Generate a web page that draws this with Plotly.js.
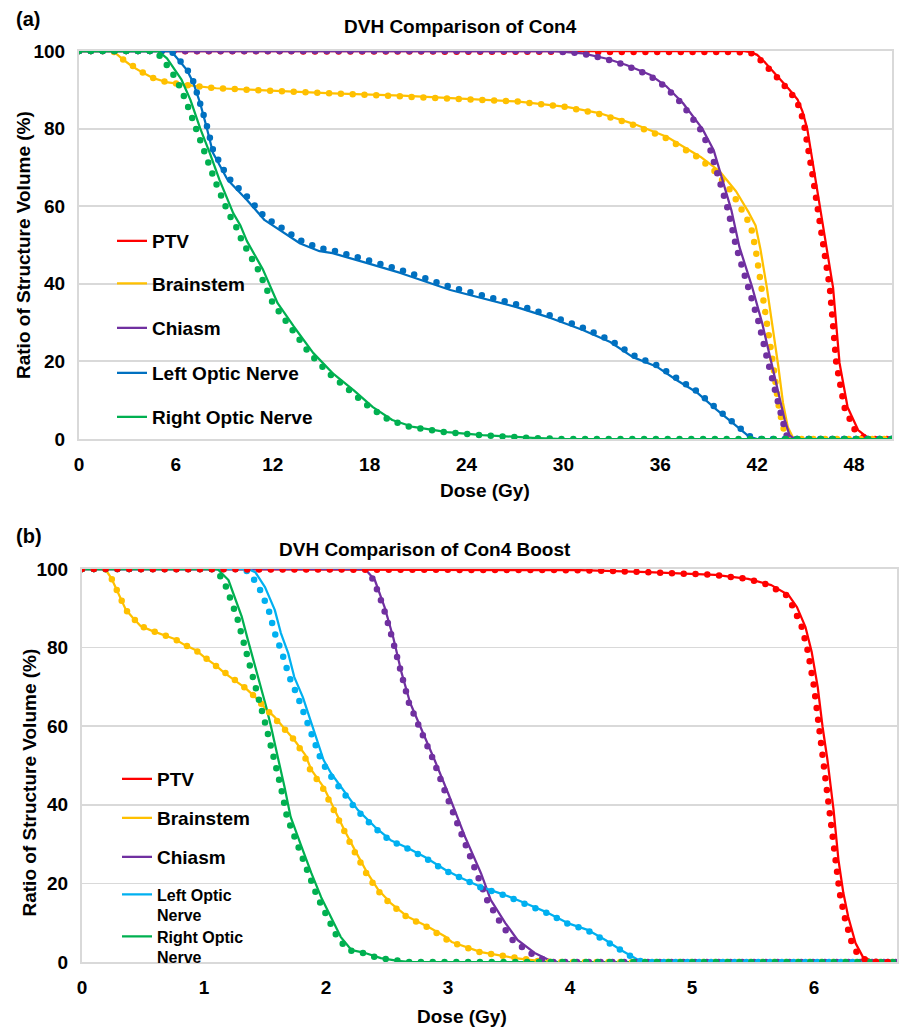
<!DOCTYPE html>
<html><head><meta charset="utf-8">
<script src="https://cdn.plot.ly/plotly-3.0.1.min.js"></script>
<style>
html,body{margin:0;padding:0;background:#fff;}
#chart{width:901px;height:1029px;}
.scatterlayer .js-line{stroke-linecap:round;stroke-linejoin:round;}
</style></head><body><div id="chart"></div><script>
// ---------- (a) DVH Comparison of Con4 ----------
var structures = ['PTV', 'Brainstem', 'Chiasm', 'Left Optic Nerve', 'Right Optic Nerve'];
var xTicksA = [0, 6, 12, 18, 24, 30, 36, 42, 48];
var xTicksB = [0, 1, 2, 3, 4, 5, 6];
var yTicks = [0, 20, 40, 60, 80, 100];

// clinical (solid) and predicted (dotted) DVHs, Con4
var a_ptv_dose = [0, 41.1, 41.6, 42.0, 42.5, 43.0, 43.5, 44.0, 44.5, 44.8, 45.1, 45.6, 46.3, 46.7, 47.1, 47.6, 48.25, 48.8, 49.3, 50.35];
var a_ptv_vol = [100, 100, 99.7, 99.0, 97.0, 94.7, 92.5, 90.0, 87.5, 84.5, 80.0, 67.5, 49.5, 39.0, 19.6, 8.2, 2.3, 0.5, 0, 0];
var a_ptv_pred_dose = [0, 41.0, 41.5, 41.9, 42.4, 42.9, 43.4, 43.9, 44.4, 44.7, 44.95, 45.45, 46.1, 46.5, 46.9, 47.4, 48.05, 48.6, 49.1, 50.35];
var a_ptv_pred_vol = [100, 100, 99.7, 99.0, 97.0, 94.7, 92.5, 90.0, 87.5, 84.5, 80.0, 67.5, 49.5, 39.0, 19.6, 8.2, 2.3, 0.5, 0, 0];

var a_brain_dose = [0, 2.1, 2.7, 3.3, 4.0, 4.6, 5.4, 6.7, 8.5, 11.6, 15.7, 20.0, 23.0, 27.1, 30.2, 32.3, 34.3, 36.4, 38.5, 39.7, 40.7, 41.5, 41.9, 42.2, 42.6, 43.0, 43.3, 43.6, 43.9, 44.2, 44.6, 50.35];
var a_brain_vol = [100, 100, 97.9, 96.0, 94.3, 93.0, 92.0, 91.2, 90.4, 89.8, 89.1, 88.5, 87.8, 87.0, 85.6, 83.9, 81.3, 77.9, 72.7, 68.9, 63.8, 58.2, 55.0, 49.0, 39.0, 28.0, 19.0, 9.3, 3.0, 0.5, 0, 0];
var a_brain_pred_dose = [0, 2.1, 2.7, 3.3, 4.0, 4.6, 5.4, 6.7, 8.5, 11.6, 15.7, 20.0, 23.0, 27.1, 30.1, 32.1, 34.1, 36.2, 38.3, 39.4, 40.4, 41.2, 41.6, 41.9, 42.3, 42.7, 43.0, 43.3, 43.6, 43.9, 44.3, 50.35];
var a_brain_pred_vol = [100, 100, 97.9, 96.0, 94.3, 93.0, 92.0, 91.2, 90.4, 89.8, 89.1, 88.5, 87.8, 87.0, 85.6, 83.9, 81.3, 77.9, 72.7, 68.9, 63.8, 58.2, 55.0, 49.0, 39.0, 28.0, 19.0, 9.3, 3.0, 0.5, 0, 0];

var a_chi_dose = [0, 29.2, 31.2, 32.7, 33.9, 35.4, 36.4, 37.4, 38.6, 39.3, 39.8, 40.4, 40.9, 41.3, 41.7, 42.3, 42.8, 43.3, 43.7, 44.0, 44.3, 50.35];
var a_chi_vol = [100, 100, 99.4, 98.0, 96.4, 93.8, 90.8, 86.6, 80.0, 74.5, 67.5, 59.0, 49.5, 44.0, 39.0, 30.0, 21.0, 12.0, 5.0, 1.0, 0, 0];
var a_chi_pred_dose = [0, 29.2, 31.1, 32.6, 33.8, 35.3, 36.3, 37.3, 38.45, 39.1, 39.6, 40.2, 40.7, 41.1, 41.5, 42.1, 42.6, 43.1, 43.5, 43.8, 44.1, 50.35];
var a_chi_pred_vol = [100, 100, 99.4, 98.0, 96.4, 93.8, 90.8, 86.6, 80.0, 74.5, 67.5, 59.0, 49.5, 44.0, 39.0, 30.0, 21.0, 12.0, 5.0, 1.0, 0, 0];

var a_lon_dose = [0, 5.7, 6.25, 6.7, 7.1, 7.5, 7.9, 8.3, 9.2, 10.4, 11.5, 12.7, 13.7, 14.9, 15.7, 17.8, 19.9, 23.0, 25.0, 27.1, 29.2, 31.2, 32.9, 34.3, 35.8, 37.0, 38.3, 39.5, 40.5, 41.5, 42.0, 50.35];
var a_lon_vol = [100, 100, 97.3, 95.0, 91.6, 86.6, 80.4, 73.7, 66.8, 61.6, 56.4, 53.0, 50.4, 48.4, 47.9, 45.4, 42.8, 38.4, 36.3, 34.0, 31.2, 28.1, 25.0, 21.1, 18.6, 15.2, 11.9, 7.5, 4.1, 0.6, 0, 0];
var a_lon_pred_dose = [0, 5.7, 6.25, 6.7, 7.1, 7.5, 7.9, 8.3, 9.2, 10.4, 11.5, 12.7, 13.7, 14.9, 15.7, 17.8, 19.9, 23.0, 25.0, 27.1, 29.2, 31.2, 32.9, 34.3, 35.8, 37.0, 38.3, 39.5, 40.5, 41.5, 42.0, 50.35];
var a_lon_pred_vol = [100, 100, 97.5, 95.3, 92.0, 87.0, 81.0, 74.5, 67.5, 62.5, 57.2, 54.0, 51.2, 49.2, 48.6, 46.2, 43.6, 39.2, 37.0, 34.7, 31.8, 28.7, 25.5, 21.6, 19.0, 15.6, 12.2, 7.8, 4.3, 0.8, 0, 0];

var a_ron_dose = [0, 4.9, 5.45, 5.8, 6.35, 6.9, 7.5, 8.1, 8.7, 9.55, 10.0, 10.4, 11.4, 12.3, 13.3, 14.5, 15.7, 17.0, 18.2, 19.4, 20.7, 22.8, 25.0, 28.1, 30.0, 50.35];
var a_ron_vol = [100, 100, 98.1, 96.0, 92.6, 87.4, 80.1, 73.7, 66.8, 58.2, 55.0, 51.0, 43.6, 35.0, 29.0, 22.2, 17.0, 12.6, 8.2, 4.9, 3.1, 1.8, 1.0, 0.3, 0, 0];
var a_ron_pred_dose = [0, 4.7, 5.15, 5.5, 6.05, 6.6, 7.2, 7.8, 8.4, 9.25, 9.7, 10.1, 11.1, 12.0, 13.0, 14.25, 15.45, 16.8, 18.0, 19.2, 20.5, 22.6, 24.8, 27.9, 29.8, 50.35];
var a_ron_pred_vol = [100, 100, 98.1, 96.0, 92.6, 87.4, 80.1, 73.7, 66.8, 58.2, 55.0, 51.0, 43.6, 35.0, 29.0, 22.2, 17.0, 12.6, 8.2, 4.9, 3.1, 1.8, 1.0, 0.3, 0, 0];

// ---------- (b) DVH Comparison of Con4 Boost ----------
var b_ptv_dose = [0, 3.0, 4.09, 4.64, 5.19, 5.46, 5.65, 5.79, 5.86, 5.93, 5.98, 6.03, 6.07, 6.11, 6.16, 6.20, 6.24, 6.28, 6.34, 6.40, 6.48, 6.55, 6.68];
var b_ptv_vol = [100, 99.9, 99.7, 99.2, 98.5, 97.5, 95.9, 93.4, 90.3, 85.2, 79.0, 70.0, 59.8, 51.4, 38.7, 26.0, 17.6, 11.5, 4.8, 1.3, 0.2, 0, 0];
var b_ptv_pred_dose = [0, 3.0, 4.09, 4.64, 5.18, 5.45, 5.63, 5.77, 5.83, 5.90, 5.95, 6.00, 6.04, 6.08, 6.13, 6.17, 6.21, 6.25, 6.31, 6.37, 6.45, 6.52, 6.68];
var b_ptv_pred_vol = [100, 99.9, 99.7, 99.2, 98.5, 97.5, 95.9, 93.4, 90.3, 85.2, 79.0, 70.0, 59.8, 51.4, 38.7, 26.0, 17.6, 11.5, 4.8, 1.3, 0.2, 0, 0];

var b_brain_dose = [0, 0.19, 0.24, 0.32, 0.36, 0.42, 0.48, 0.58, 0.68, 0.76, 0.84, 0.93, 1.01, 1.09, 1.17, 1.25, 1.34, 1.42, 1.50, 1.58, 1.66, 1.74, 1.83, 1.88, 1.98, 2.07, 2.15, 2.25, 2.34, 2.43, 2.53, 2.67, 2.84, 2.98, 3.03, 3.27, 3.55, 3.76, 3.90, 6.68];
var b_brain_vol = [100, 100, 97.7, 92.1, 89.6, 87.5, 85.5, 84.2, 83.2, 82.2, 80.7, 79.4, 77.4, 75.6, 73.5, 71.8, 69.7, 67.4, 64.6, 62.3, 59.5, 56.5, 52.7, 48.9, 44.5, 38.7, 33.6, 27.7, 22.6, 18.3, 15.0, 11.5, 8.9, 6.4, 5.1, 2.5, 1.0, 0.2, 0, 0];
var b_brain_pred_dose = [0, 0.19, 0.24, 0.32, 0.36, 0.42, 0.48, 0.58, 0.68, 0.76, 0.84, 0.93, 1.01, 1.09, 1.17, 1.25, 1.34, 1.42, 1.50, 1.58, 1.66, 1.74, 1.82, 1.87, 1.97, 2.06, 2.14, 2.24, 2.33, 2.42, 2.52, 2.66, 2.83, 2.97, 3.02, 3.26, 3.54, 3.75, 3.89, 6.68];
var b_brain_pred_vol = [100, 100, 97.7, 92.1, 89.6, 87.5, 85.5, 84.2, 83.2, 82.2, 80.7, 79.4, 77.4, 75.6, 73.5, 71.8, 69.7, 67.4, 64.6, 62.3, 59.5, 56.5, 52.7, 48.9, 44.5, 38.7, 33.6, 27.7, 22.6, 18.3, 15.0, 11.5, 8.9, 6.4, 5.1, 2.5, 1.0, 0.2, 0, 0];

var b_chi_dose = [0, 2.32, 2.40, 2.48, 2.55, 2.62, 2.69, 2.75, 2.83, 2.89, 3.00, 3.14, 3.27, 3.35, 3.47, 3.57, 3.71, 3.84, 3.90, 6.68];
var b_chi_vol = [100, 100, 97.2, 90.3, 82.7, 73.5, 65.9, 61.6, 56.0, 51.4, 43.0, 31.8, 22.6, 15.8, 9.9, 5.6, 2.3, 0.3, 0, 0];
var b_chi_pred_dose = [0, 2.32, 2.39, 2.47, 2.54, 2.61, 2.68, 2.74, 2.82, 2.88, 2.98, 3.12, 3.24, 3.32, 3.43, 3.53, 3.67, 3.80, 3.87, 6.68];
var b_chi_pred_vol = [100, 100, 97.2, 90.3, 82.7, 73.5, 65.9, 61.6, 56.0, 51.4, 43.0, 31.8, 22.6, 15.8, 9.9, 5.6, 2.3, 0.3, 0, 0];

var b_lon_dose = [0, 1.36, 1.42, 1.50, 1.58, 1.63, 1.69, 1.74, 1.81, 1.88, 1.93, 1.98, 2.04, 2.16, 2.26, 2.40, 2.53, 2.67, 2.81, 2.98, 3.10, 3.27, 3.47, 3.63, 3.82, 3.98, 4.15, 4.29, 4.42, 4.56, 4.61, 6.68];
var b_lon_vol = [100, 100, 99.2, 95.4, 89.6, 83.7, 78.6, 72.5, 67.4, 60.8, 56.5, 51.4, 48.1, 43.0, 38.7, 34.4, 31.0, 29.0, 26.7, 23.4, 21.5, 19.1, 17.0, 15.0, 12.5, 9.9, 8.1, 5.6, 3.0, 0.5, 0, 0];
var b_lon_pred_dose = [0, 1.32, 1.37, 1.45, 1.53, 1.58, 1.64, 1.70, 1.77, 1.85, 1.90, 1.96, 2.02, 2.14, 2.25, 2.39, 2.52, 2.66, 2.80, 2.97, 3.09, 3.26, 3.46, 3.62, 3.81, 3.97, 4.14, 4.28, 4.41, 4.55, 4.60, 6.68];
var b_lon_pred_vol = [100, 100, 99.2, 95.4, 89.6, 83.7, 78.6, 72.5, 67.4, 60.8, 56.5, 51.4, 48.1, 43.0, 38.7, 34.4, 31.0, 29.0, 26.7, 23.4, 21.5, 19.1, 17.0, 15.0, 12.5, 9.9, 8.1, 5.6, 3.0, 0.5, 0, 0];

var b_ron_dose = [0, 1.11, 1.20, 1.25, 1.31, 1.36, 1.42, 1.47, 1.51, 1.55, 1.59, 1.61, 1.66, 1.71, 1.80, 1.88, 1.96, 2.04, 2.12, 2.21, 2.32, 2.45, 2.59, 2.70, 6.68];
var b_ron_vol = [100, 100, 97.2, 92.9, 87.8, 81.9, 75.1, 70.0, 64.9, 59.8, 54.7, 51.4, 44.5, 36.9, 29.3, 22.6, 16.5, 11.5, 6.4, 3.0, 2.3, 1.0, 0.3, 0, 0];
var b_ron_pred_dose = [0, 1.08, 1.16, 1.21, 1.27, 1.32, 1.38, 1.43, 1.47, 1.51, 1.55, 1.58, 1.63, 1.68, 1.77, 1.85, 1.93, 2.01, 2.09, 2.18, 2.30, 2.43, 2.57, 2.68, 6.68];
var b_ron_pred_vol = [100, 100, 97.2, 92.9, 87.8, 81.9, 75.1, 70.0, 64.9, 59.8, 54.7, 51.4, 44.5, 36.9, 29.3, 22.6, 16.5, 11.5, 6.4, 3.0, 2.3, 1.0, 0.3, 0, 0];

var colorsA = ['#FF0000', '#FFC000', '#7030A0', '#0070C0', '#00B050'];
var colorsB = ['#FF0000', '#FFC000', '#7030A0', '#00B0F0', '#00B050'];
var namesB = ['PTV', 'Brainstem', 'Chiasm', 'Left Optic<br>Nerve', 'Right Optic<br>Nerve'];

var DOT = '0px,11.8px';
function solid(x, y, color, name, xa, ya, leg) {
  return {type: 'scatter', mode: 'lines', x: x, y: y, name: name, xaxis: xa, yaxis: ya,
    legend: leg, line: {color: color, width: 2.25}, cliponaxis: false, hoverinfo: 'skip'};
}
function dotted(x, y, color, name, xa, ya) {
  return {type: 'scatter', mode: 'lines', x: x, y: y, name: name + ' (predicted)', xaxis: xa, yaxis: ya,
    showlegend: false, line: {color: color, width: 6.5, dash: DOT}, cliponaxis: false, hoverinfo: 'skip'};
}

var A = [[a_ptv_dose, a_ptv_vol, a_ptv_pred_dose, a_ptv_pred_vol],
         [a_brain_dose, a_brain_vol, a_brain_pred_dose, a_brain_pred_vol],
         [a_chi_dose, a_chi_vol, a_chi_pred_dose, a_chi_pred_vol],
         [a_lon_dose, a_lon_vol, a_lon_pred_dose, a_lon_pred_vol],
         [a_ron_dose, a_ron_vol, a_ron_pred_dose, a_ron_pred_vol]];
var B = [[b_ptv_dose, b_ptv_vol, b_ptv_pred_dose, b_ptv_pred_vol],
         [b_brain_dose, b_brain_vol, b_brain_pred_dose, b_brain_pred_vol],
         [b_chi_dose, b_chi_vol, b_chi_pred_dose, b_chi_pred_vol],
         [b_lon_dose, b_lon_vol, b_lon_pred_dose, b_lon_pred_vol],
         [b_ron_dose, b_ron_vol, b_ron_pred_dose, b_ron_pred_vol]];

var traces = [];
A.forEach(function (s, i) {
  var leg = i === 0 ? 'legend' : 'legend' + (i + 1);
  traces.push(solid(s[0], s[1], colorsA[i], structures[i], 'x', 'y', leg));
  traces.push(dotted(s[2], s[3], colorsA[i], structures[i], 'x', 'y'));
});
B.forEach(function (s, i) {
  traces.push(solid(s[0], s[1], colorsB[i], namesB[i], 'x2', 'y2', 'legend' + (i + 6)));
});
[1, 2, 3, 4, 0].forEach(function (i) {
  var s = B[i];
  traces.push(dotted(s[2], s[3], colorsB[i], structures[i], 'x2', 'y2'));
});

var W = 901, H = 1029;
function px(v) { return v / W; }
function py(v) { return 1 - v / H; }

var FONT = '"Liberation Sans", Arial, Helvetica, sans-serif';
var GRID = '#D9D9D9';
function xax(dom, rng, ticks, anchor) {
  return {domain: dom, range: rng, tickvals: ticks, ticktext: ticks.map(String), anchor: anchor,
    showgrid: false, zeroline: false, showline: true, mirror: true, linecolor: GRID, linewidth: 2,
    layer: 'below traces', ticks: '', ticklabelstandoff: 7, fixedrange: true};
}
function yax(dom, anchor) {
  return {domain: dom, range: [0, 100], tickvals: yTicks, ticktext: yTicks.map(String), anchor: anchor,
    showgrid: true, gridcolor: GRID, gridwidth: 1.8, zeroline: false, showline: true, mirror: true,
    linecolor: GRID, linewidth: 2, layer: 'below traces', ticks: '', ticklabelstandoff: 8, fixedrange: true};
}

var legendTextA = [241, 283.5, 328, 373, 417];
var legendTextB = [779, 818, 857, 905, 947];
var legendSizeB = [19, 19, 19, 16, 16];
var layout = {
  width: W, height: H, margin: {l: 0, r: 0, t: 0, b: 0},
  paper_bgcolor: '#ffffff', plot_bgcolor: '#ffffff',
  font: {family: FONT, size: 19, color: '#000000', weight: 'bold'},
  showlegend: true,
  xaxis: xax([px(79), px(892)], [0, 50.35], xTicksA, 'y'),
  yaxis: yax([py(439), py(51)], 'x'),
  xaxis2: xax([px(82), px(897)], [0, 6.68], xTicksB, 'y2'),
  yaxis2: yax([py(962), py(569)], 'x2'),
  annotations: [
    {text: '(a)', x: px(14), y: py(19), xref: 'paper', yref: 'paper', xanchor: 'left', yanchor: 'middle', showarrow: false, font: {size: 20}},
    {text: '(b)', x: px(14), y: py(536), xref: 'paper', yref: 'paper', xanchor: 'left', yanchor: 'middle', showarrow: false, font: {size: 20}},
    {text: 'DVH Comparison of Con4', x: px(460), y: py(27), xref: 'paper', yref: 'paper', xanchor: 'center', yanchor: 'middle', showarrow: false, font: {size: 19}},
    {text: 'DVH Comparison of Con4 Boost', x: px(425), y: py(549), xref: 'paper', yref: 'paper', xanchor: 'center', yanchor: 'middle', showarrow: false, font: {size: 19}},
    {text: 'Dose (Gy)', x: px(485), y: py(490), xref: 'paper', yref: 'paper', xanchor: 'center', yanchor: 'middle', showarrow: false, font: {size: 19}},
    {text: 'Dose (Gy)', x: px(462), y: py(1016), xref: 'paper', yref: 'paper', xanchor: 'center', yanchor: 'middle', showarrow: false, font: {size: 19}},
    {text: 'Ratio of Structure Volume (%)', x: px(23.5), y: py(245.5), xref: 'paper', yref: 'paper', xanchor: 'center', yanchor: 'middle', textangle: -90, showarrow: false, font: {size: 19}},
    {text: 'Ratio of Structure Volume (%)', x: px(28.5), y: py(783), xref: 'paper', yref: 'paper', xanchor: 'center', yanchor: 'middle', textangle: -90, showarrow: false, font: {size: 19}}
  ]
};
function legendAt(xText, yMid, vtop, size) {
  return {x: px(xText - 40), y: py(yMid), xanchor: 'left', yanchor: 'middle', bgcolor: 'rgba(0,0,0,0)',
    borderwidth: 0, font: {size: size, color: '#000'}, itemwidth: 30, valign: vtop ? 'top' : 'middle',
    itemclick: false, itemdoubleclick: false};
}
for (var i = 0; i < 5; i++) {
  layout[i === 0 ? 'legend' : 'legend' + (i + 1)] = legendAt(152, legendTextA[i], false, 19);
  layout['legend' + (i + 6)] = legendAt(157, legendTextB[i], i >= 3, legendSizeB[i]);
}

Plotly.newPlot('chart', traces, layout, {displayModeBar: false, staticPlot: true});
</script></body></html>
